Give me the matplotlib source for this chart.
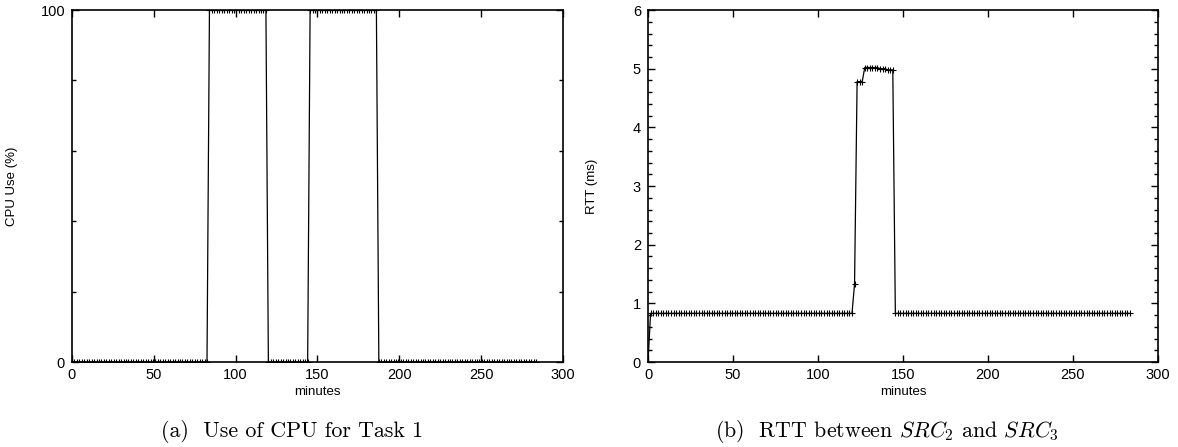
import numpy as np
import matplotlib
matplotlib.use("Agg")
import matplotlib.pyplot as plt
from matplotlib.ticker import MultipleLocator, FixedLocator

plt.rcParams['font.family'] = ['Liberation Sans', 'DejaVu Sans']
plt.rcParams['mathtext.fontset'] = 'cm'

# sample times (minutes) -- one reading roughly every 1.5 min
minutes = np.arange(0, 284, 1.5)

# CPU use: (start, end, value) segments
cpu_segments = [(0, 84, 0), (84, 120, 100), (120, 144.5, 0), (144.5, 187.5, 100), (187.5, 284, 0)]

# RTT: (start, end, value) segments
rtt_segments = [(0, 1, 0.0), (1, 121, 0.83), (121, 122.5, 1.33), (122.5, 127.5, 4.78),
                (127.5, 136, 5.02), (136, 141, 5.0), (141, 145, 4.98), (145, 284, 0.83)]


def build(segments):
    vals = np.zeros_like(minutes)
    for start, end, v in segments:
        vals[(minutes >= start) & (minutes < end)] = v
    return vals


cpu = build(cpu_segments)
rtt = build(rtt_segments)

fig = plt.figure(figsize=(11.78, 4.47), dpi=100)
ax1 = fig.add_axes([0.0611, 0.190, 0.4168, 0.7875])
ax2 = fig.add_axes([0.5501, 0.190, 0.4329, 0.7875])

line_kw = dict(color='black', lw=0.9, marker='+', ms=5, mew=0.8)

# (a) CPU
ax1.plot(minutes, cpu, **line_kw)
ax1.set_xlim(0, 300)
ax1.set_ylim(0, 100)
ax1.set_yticks([0, 100])
ax1.yaxis.set_minor_locator(FixedLocator([20, 40, 60, 80]))
ax1.xaxis.set_major_locator(MultipleLocator(50))
ax1.set_ylabel('CPU Use (%)', fontsize=9.5)
ax1.yaxis.set_label_coords(-0.11, 0.5)
ax1.set_xlabel('minutes', fontsize=9.5, labelpad=3)

# (b) RTT
ax2.plot(minutes, rtt, **line_kw)
ax2.set_xlim(0, 300)
ax2.set_ylim(0, 6)
ax2.yaxis.set_major_locator(MultipleLocator(1))
ax2.yaxis.set_minor_locator(MultipleLocator(0.2))
ax2.xaxis.set_major_locator(MultipleLocator(50))
ax2.set_ylabel('RTT (ms)', fontsize=9.5)
ax2.yaxis.set_label_coords(-0.098, 0.5)
ax2.set_xlabel('minutes', fontsize=9.5, labelpad=3)

for ax in (ax1, ax2):
    ax.tick_params(which='both', direction='in', top=True, right=True, labelsize=10.5, width=1)
    ax.tick_params(which='major', length=5, pad=5)
    ax.tick_params(axis='x', which='major', pad=4)
    ax.tick_params(which='minor', length=3)
    for s in ax.spines.values():
        s.set_linewidth(1.2)

fig.text(0.248, 0.022, '(a)  Use of CPU for Task 1', ha='center', fontsize=15.8,
         family=['cmr10', 'DejaVu Serif'])
fig.text(0.753, 0.022, r'(b)  RTT between $SRC_2$ and $SRC_3$', ha='center', fontsize=15.8,
         family=['cmr10', 'DejaVu Serif'])

fig.savefig('out.png', dpi=100)
